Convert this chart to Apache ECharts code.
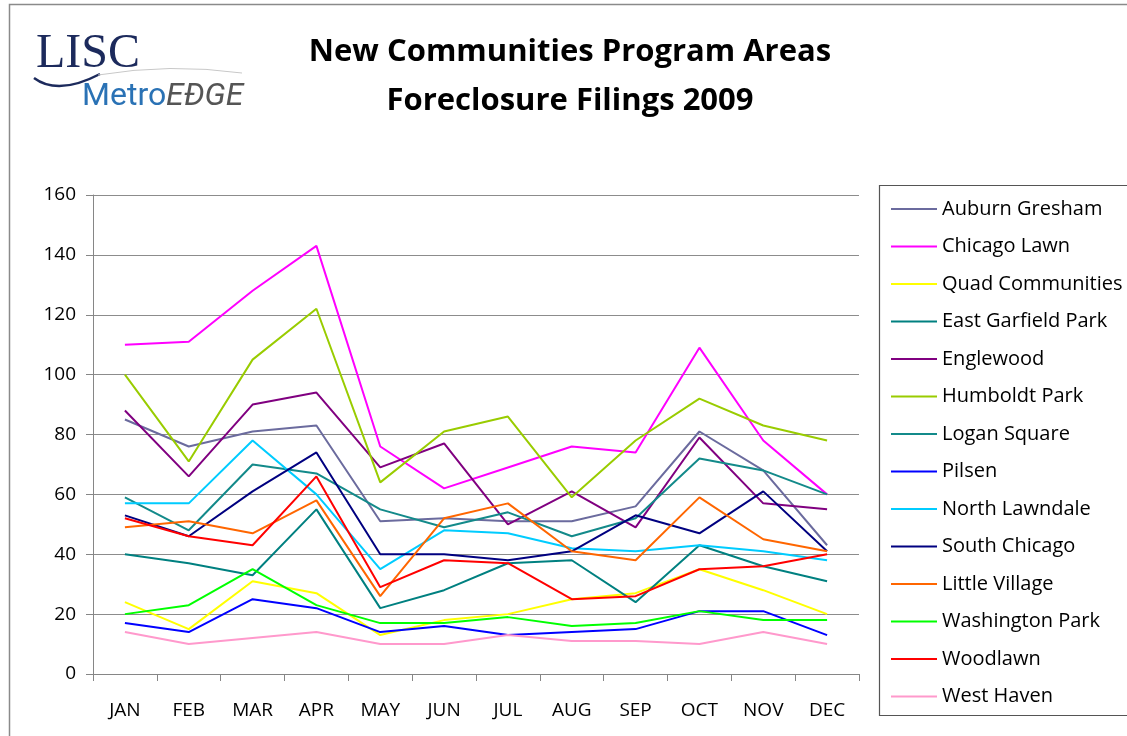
<!DOCTYPE html>
<html>
<head>
    <meta charset="utf-8" />
    <title>Foreclosure Filings 2009</title>
    <style type="text/css">
        html, body { margin: 0; padding: 0; background: #fff; }
        #chart { width: 1127px; height: 736px; }
    </style>
    <script src="https://cdn.jsdelivr.net/npm/echarts@6.0.0/dist/echarts.min.js"></script>
</head>
<body>
    <div id="chart"></div>
    <script type="text/javascript">
        // months on the x axis
        var months = ['JAN', 'FEB', 'MAR', 'APR', 'MAY', 'JUN', 'JUL', 'AUG', 'SEP', 'OCT', 'NOV', 'DEC'];
        var yTicks = [0, 160, 20]; // min, max, step

        // foreclosure filings per area
        var auburnGresham = [85, 76, 81, 83, 51, 52, 51, 51, 56, 81, 68, 43];
        var chicagoLawn = [110, 111, 128, 143, 76, 62, 69, 76, 74, 109, 78, 60];
        var quadCommunities = [24, 15, 31, 27, 13, 18, 20, 25, 27, 35, 28, 20];
        var eastGarfieldPark = [40, 37, 33, 55, 22, 28, 37, 38, 24, 43, 36, 31];
        var englewood = [88, 66, 90, 94, 69, 77, 50, 61, 49, 79, 57, 55];
        var humboldtPark = [100, 71, 105, 122, 64, 81, 86, 59, 78, 92, 83, 78];
        var loganSquare = [59, 48, 70, 67, 55, 49, 54, 46, 52, 72, 68, 60];
        var pilsen = [17, 14, 25, 22, 14, 16, 13, 14, 15, 21, 21, 13];
        var northLawndale = [57, 57, 78, 60, 35, 48, 47, 42, 41, 43, 41, 38];
        var southChicago = [53, 46, 61, 74, 40, 40, 38, 41, 53, 47, 61, 41];
        var littleVillage = [49, 51, 47, 58, 26, 52, 57, 41, 38, 59, 45, 41];
        var washingtonPark = [20, 23, 35, 23, 17, 17, 19, 16, 17, 21, 18, 18];
        var woodlawn = [52, 46, 43, 66, 29, 38, 37, 25, 26, 35, 36, 40];
        var westHaven = [14, 10, 12, 14, 10, 10, 13, 11, 11, 10, 14, 10];

        var areaNames = ['Auburn Gresham', 'Chicago Lawn', 'Quad Communities', 'East Garfield Park',
            'Englewood', 'Humboldt Park', 'Logan Square', 'Pilsen', 'North Lawndale', 'South Chicago',
            'Little Village', 'Washington Park', 'Woodlawn', 'West Haven'];
        var areaValues = [auburnGresham, chicagoLawn, quadCommunities, eastGarfieldPark, englewood,
            humboldtPark, loganSquare, pilsen, northLawndale, southChicago, littleVillage,
            washingtonPark, woodlawn, westHaven];
        var colors = ['#6b6b9e', '#ff00ff', '#ffff00', '#008080', '#800080', '#99cc00', '#138a8a',
            '#0000ff', '#00ccff', '#000080', '#ff6600', '#00ff00', '#ff0000', '#ff99cc'];

        var series = [];
        for (var i = 0; i < areaNames.length; i++) {
            series.push({
                name: areaNames[i],
                type: 'line',
                data: areaValues[i],
                symbol: 'none',
                lineStyle: { width: 2, color: colors[i] },
                itemStyle: { color: colors[i] }
            });
        }

        var font = 'Open Sans';
        var chart = echarts.init(document.getElementById('chart'));
        var option = {
            animation: false,
            color: colors,
            grid: { left: 93, right: 268, top: 195, bottom: 62 },
            xAxis: {
                type: 'category',
                data: months,
                boundaryGap: true,
                axisLine: { lineStyle: { color: '#868686', width: 1 } },
                axisTick: { show: true, length: 7, lineStyle: { color: '#868686' } },
                axisLabel: { color: '#000', fontSize: 19, fontFamily: font, margin: 27 },
                splitLine: { show: false }
            },
            yAxis: {
                type: 'value',
                min: yTicks[0],
                max: yTicks[1],
                interval: yTicks[2],
                axisLine: { show: true, lineStyle: { color: '#868686', width: 1 } },
                axisTick: { show: true, length: 7, lineStyle: { color: '#868686' } },
                axisLabel: { color: '#000', fontSize: 19, fontFamily: font, margin: 17 },
                splitLine: { show: true, lineStyle: { color: '#8c8c8c', width: 1 } }
            },
            legend: {
                orient: 'vertical',
                left: 886,
                top: 194,
                icon: 'rect',
                itemWidth: 46,
                itemHeight: 2,
                itemGap: 17.5,
                data: areaNames,
                textStyle: { color: '#000', fontSize: 20, fontFamily: font, lineHeight: 20 }
            },
            graphic: [
                // outer chart border
                { type: 'rect', left: 7, top: 2, shape: { width: 1200, height: 800 }, style: { fill: 'none', stroke: '#8a8a8a', lineWidth: 1.5 }, z: -1 },
                // legend box
                { type: 'rect', left: 877, top: 183, shape: { width: 300, height: 530 }, style: { fill: 'none', stroke: '#555', lineWidth: 1.2 } },
                // title
                { type: 'text', x: 570, y: 52, style: { text: 'New Communities Program Areas', align: 'center', verticalAlign: 'middle', fontSize: 31, fontWeight: 'bold', fontFamily: font, fill: '#000' } },
                { type: 'text', x: 570, y: 101, style: { text: 'Foreclosure Filings 2009', align: 'center', verticalAlign: 'middle', fontSize: 31, fontWeight: 'bold', fontFamily: font, fill: '#000' } },
                // logo
                { type: 'text', x: 36, y: 54, style: { text: 'LISC', verticalAlign: 'middle', fontSize: 48, fontFamily: 'Liberation Serif', fill: '#1c2a5c' } },
                { type: 'bezierCurve', shape: { x1: 34, y1: 78, cpx1: 58, cpy1: 96, x2: 100, y2: 74 }, style: { fill: 'none', stroke: '#1c2a5c', lineWidth: 2.5 } },
                { type: 'bezierCurve', shape: { x1: 98, y1: 75, cpx1: 170, cpy1: 63, x2: 242, y2: 73 }, style: { fill: 'none', stroke: '#c8c8c8', lineWidth: 1 } },
                { type: 'text', x: 82, y: 97, style: { text: 'Metro', verticalAlign: 'middle', fontSize: 32, fontFamily: 'Roboto', fill: '#2a72b5' } },
                { type: 'text', x: 166, y: 97, style: { text: 'EÐGE', verticalAlign: 'middle', fontSize: 32, fontStyle: 'italic', fontFamily: 'Roboto', fill: '#555' } }
            ],
            series: series
        };
        chart.setOption(option);
    </script>
</body>
</html>
